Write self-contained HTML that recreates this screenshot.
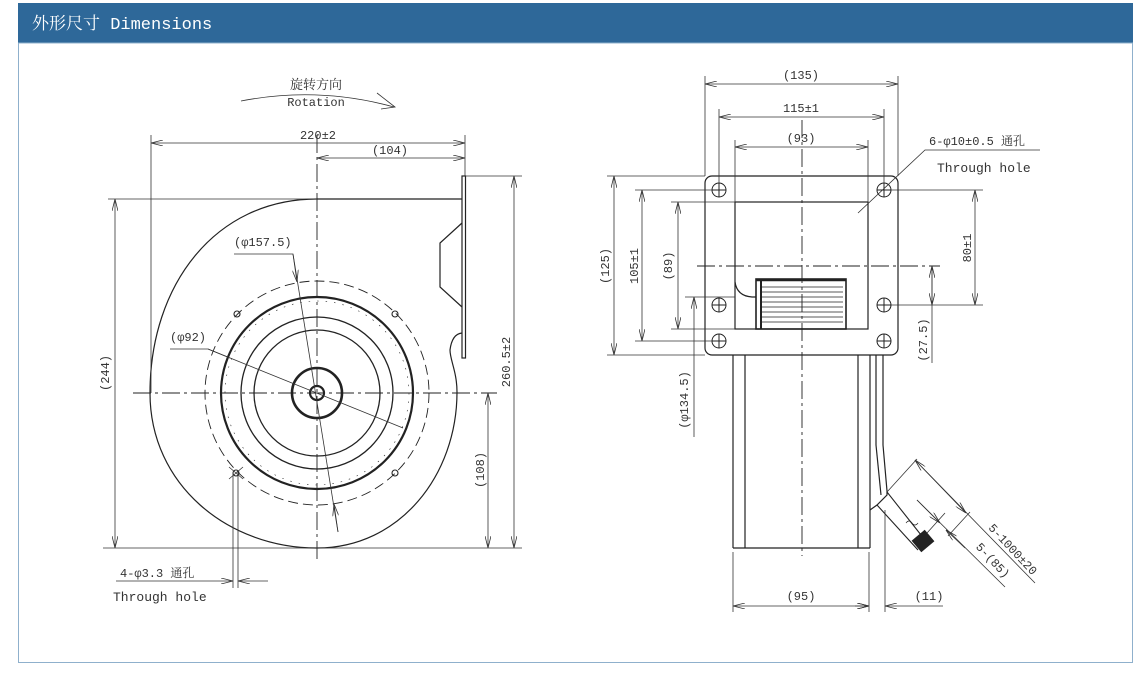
<!DOCTYPE html>
<html><head><meta charset="utf-8"><style>
html,body{margin:0;padding:0;background:#fff;width:1142px;height:678px;overflow:hidden}
svg{display:block}
text{font-family:"Liberation Mono","Noto Serif CJK SC",monospace;fill:#333;font-size:12px}
</style></head><body>
<svg width="1142" height="678" viewBox="0 0 1142 678" xmlns="http://www.w3.org/2000/svg">
<defs>
<marker id="a" viewBox="0 0 12 6" refX="12" refY="3" markerWidth="12" markerHeight="6" orient="auto-start-reverse" markerUnits="userSpaceOnUse"><path d="M0,0 L12,3 L0,6" fill="none" stroke="#333" stroke-width="0.8"/></marker>
</defs>
<rect x="18" y="3" width="1115" height="40" fill="#2e6899"/>
<rect x="18.5" y="43" width="1114" height="619.5" fill="none" stroke="#8fb0cc" stroke-width="1"/>
<text x="32" y="29" style="fill:#fff;font-size:17px">外形尺寸 Dimensions</text>

<g stroke="#222" fill="none" stroke-width="1">
<!-- LEFT VIEW -->
<g stroke-width="1.2">
<path d="M317,199 C215,199 150,285 150,393 C150,485 228,548 317,548 C400,548 457,475 457,392 C457,372 450,360 450,350 Q452,334 462,333"/>
<line x1="317" y1="199" x2="462" y2="199"/>
<rect x="462" y="176" width="3.5" height="182"/>
<path d="M462,223 L440,243 L440,287 L462,307"/>
</g>
<circle cx="317" cy="393" r="112" stroke-dasharray="10,5" stroke-width="0.9"/>
<circle cx="317" cy="393" r="96" stroke-width="2.2"/>
<circle cx="317" cy="393" r="92" stroke-width="0.6" stroke-dasharray="1.5,7"/>
<circle cx="317" cy="393" r="76" stroke-width="1.3"/>
<circle cx="317" cy="393" r="63" stroke-width="1.3"/>
<circle cx="317" cy="393" r="25" stroke-width="2.6"/>
<circle cx="317" cy="393" r="7" stroke-width="2.2"/>
<g stroke-width="1.1">
<circle cx="237" cy="314" r="3"/><circle cx="395" cy="314" r="3"/>
<circle cx="236" cy="473" r="3"/><circle cx="395" cy="473" r="3"/>
</g>
<g stroke-dasharray="18,4,3,4" stroke-width="0.9">
<line x1="133" y1="393" x2="497" y2="393"/>
<line x1="317" y1="135" x2="317" y2="562"/>
</g>
<g stroke-width="0.8" stroke="#333">
<line x1="151" y1="135" x2="151" y2="393"/>
<line x1="465" y1="135" x2="465" y2="176"/>
<line x1="151" y1="143" x2="465" y2="143" marker-start="url(#a)" marker-end="url(#a)"/>
<line x1="317" y1="158" x2="465" y2="158" marker-start="url(#a)" marker-end="url(#a)"/>
<line x1="108" y1="199" x2="317" y2="199"/>
<line x1="103" y1="548" x2="522" y2="548"/>
<line x1="115" y1="199" x2="115" y2="548" marker-start="url(#a)" marker-end="url(#a)"/>
<line x1="465" y1="176" x2="522" y2="176"/>
<line x1="514" y1="176" x2="514" y2="548" marker-start="url(#a)" marker-end="url(#a)"/>
<line x1="488" y1="393" x2="488" y2="548" marker-start="url(#a)" marker-end="url(#a)"/>
<path d="M234,254 L293,254 L338,532"/>
<line x1="293" y1="254" x2="297" y2="282" marker-end="url(#a)"/>
<line x1="334" y1="504" x2="338" y2="532" marker-start="url(#a)"/>
<path d="M170,349 L208,349 L403,428"/>
<line x1="208" y1="349" x2="230" y2="358"/>
<line x1="233" y1="473" x2="233" y2="588"/>
<line x1="238" y1="473" x2="238" y2="588"/>
<line x1="229" y1="467" x2="243" y2="479"/><line x1="243" y1="467" x2="229" y2="479"/>
<line x1="116" y1="581" x2="233" y2="581" marker-end="url(#a)"/>
<line x1="268" y1="581" x2="238" y2="581" marker-end="url(#a)"/>
<path d="M241,101 Q318,86 394,107"/>
<path d="M377,93 L395,107 L381,109"/>
</g>

<!-- RIGHT VIEW -->
<g stroke-width="1.2">
<rect x="705" y="176" width="193" height="179" rx="7"/>
<rect x="735" y="202" width="133" height="127"/>
<path d="M735,282 Q737,296 752,297 L756,297"/>
<rect x="756" y="279" width="90" height="50" stroke-width="1.6"/>
<line x1="756" y1="280" x2="846" y2="280" stroke-width="2.5"/>
<line x1="761" y1="279" x2="761" y2="329" stroke-width="2"/>
<line x1="733" y1="355" x2="733" y2="548"/>
<line x1="745" y1="355" x2="745" y2="548"/>
<line x1="858" y1="355" x2="858" y2="548"/>
<line x1="870" y1="355" x2="870" y2="548"/>
<line x1="733" y1="548" x2="870" y2="548"/>
<line x1="876" y1="355" x2="876" y2="445"/>
<path d="M883,355 L883,445 L887,491 L887,495 L877,505 L870,510"/>
<path d="M876,445 L881,495"/>
</g>
<g stroke-width="0.8">
<line x1="762" y1="287" x2="843" y2="287"/><line x1="762" y1="292" x2="843" y2="292"/>
<line x1="762" y1="297" x2="843" y2="297"/><line x1="762" y1="302" x2="843" y2="302"/>
<line x1="762" y1="307" x2="843" y2="307"/><line x1="762" y1="312" x2="843" y2="312"/>
<line x1="762" y1="317" x2="843" y2="317"/><line x1="762" y1="322" x2="843" y2="322"/>
</g>
<g stroke-width="1">
<g id="h"><circle cx="719" cy="190" r="7"/><line x1="712" y1="190" x2="726" y2="190"/><line x1="719" y1="183" x2="719" y2="197"/></g>
<circle cx="884" cy="190" r="7"/><line x1="877" y1="190" x2="891" y2="190"/><line x1="884" y1="183" x2="884" y2="197"/>
<circle cx="719" cy="305" r="7"/><line x1="712" y1="305" x2="726" y2="305"/><line x1="719" y1="298" x2="719" y2="312"/>
<circle cx="884" cy="305" r="7"/><line x1="877" y1="305" x2="891" y2="305"/><line x1="884" y1="298" x2="884" y2="312"/>
<circle cx="719" cy="341" r="7"/><line x1="712" y1="341" x2="726" y2="341"/><line x1="719" y1="334" x2="719" y2="348"/>
<circle cx="884" cy="341" r="7"/><line x1="877" y1="341" x2="891" y2="341"/><line x1="884" y1="334" x2="884" y2="348"/>
</g>
<!-- cable -->
<g stroke-width="1.1">
<path d="M887,492 L925,540"/>
<path d="M877,505 L918,550"/>
<rect x="915" y="534" width="16" height="14" transform="rotate(-40 923 541)" fill="#222"/>
<path d="M906,523 q3,-4 6,0 q3,4 6,0" stroke-width="0.7"/>
</g>
<g stroke-dasharray="18,4,3,4" stroke-width="0.9">
<line x1="802" y1="120" x2="802" y2="556"/>
<line x1="697" y1="266" x2="940" y2="266"/>
</g>
<g stroke-width="0.8" stroke="#333">
<line x1="705" y1="76" x2="705" y2="176"/><line x1="898" y1="76" x2="898" y2="176"/>
<line x1="705" y1="84" x2="898" y2="84" marker-start="url(#a)" marker-end="url(#a)"/>
<line x1="719" y1="109" x2="719" y2="183"/><line x1="884" y1="109" x2="884" y2="183"/>
<line x1="719" y1="117" x2="884" y2="117" marker-start="url(#a)" marker-end="url(#a)"/>
<line x1="735" y1="140" x2="735" y2="202"/><line x1="868" y1="140" x2="868" y2="202"/>
<line x1="735" y1="147" x2="868" y2="147" marker-start="url(#a)" marker-end="url(#a)"/>
<line x1="607" y1="176" x2="705" y2="176"/><line x1="607" y1="355" x2="705" y2="355"/>
<line x1="614" y1="176" x2="614" y2="355" marker-start="url(#a)" marker-end="url(#a)"/>
<line x1="635" y1="190" x2="712" y2="190"/><line x1="635" y1="341" x2="712" y2="341"/>
<line x1="642" y1="190" x2="642" y2="341" marker-start="url(#a)" marker-end="url(#a)"/>
<line x1="671" y1="202" x2="735" y2="202"/><line x1="671" y1="329" x2="735" y2="329"/>
<line x1="678" y1="202" x2="678" y2="329" marker-start="url(#a)" marker-end="url(#a)"/>
<line x1="685" y1="297" x2="735" y2="297"/>
<line x1="694" y1="437" x2="694" y2="297" marker-end="url(#a)"/>
<line x1="891" y1="190" x2="983" y2="190"/><line x1="891" y1="305" x2="983" y2="305"/>
<line x1="975" y1="190" x2="975" y2="305" marker-start="url(#a)" marker-end="url(#a)"/>
<line x1="932" y1="266" x2="932" y2="363"/>
<line x1="932" y1="266" x2="932" y2="305" marker-start="url(#a)" marker-end="url(#a)"/>
<line x1="733" y1="552" x2="733" y2="612"/><line x1="869" y1="552" x2="869" y2="612"/><line x1="885" y1="510" x2="885" y2="612"/>
<line x1="733" y1="606" x2="869" y2="606" marker-start="url(#a)" marker-end="url(#a)"/>
<line x1="943" y1="606" x2="885" y2="606" marker-end="url(#a)"/>
<line x1="855" y1="606" x2="869" y2="606" marker-end="url(#a)"/>
<path d="M858,213 L925,150 L1040,150"/>
<line x1="887" y1="492" x2="917" y2="459"/>
<line x1="915" y1="460" x2="1035" y2="583"/>
<line x1="915" y1="460" x2="966" y2="513" marker-start="url(#a)" marker-end="url(#a)"/>
<line x1="970" y1="512" x2="948" y2="536"/>
<line x1="917" y1="500" x2="1005" y2="587"/>
<line x1="917" y1="500" x2="940" y2="523" marker-end="url(#a)"/>
<line x1="945" y1="513" x2="927" y2="533"/>
<line x1="965" y1="548" x2="946" y2="530" marker-end="url(#a)"/>
</g>
</g>

<!-- labels -->
<text x="316" y="89" text-anchor="middle" style="font-size:13px">旋转方向</text>
<text x="316" y="106" text-anchor="middle">Rotation</text>
<text x="318" y="139" text-anchor="middle">220±2</text>
<text x="390" y="154" text-anchor="middle">(104)</text>
<text x="234" y="246">(φ157.5)</text>
<text x="170" y="341">(φ92)</text>
<text transform="translate(109,373) rotate(-90)" text-anchor="middle">(244)</text>
<text transform="translate(510,362) rotate(-90)" text-anchor="middle">260.5±2</text>
<text transform="translate(484,470) rotate(-90)" text-anchor="middle">(108)</text>
<text x="120" y="577">4-φ3.3 通孔</text>
<text x="113" y="601" style="font-size:13px">Through hole</text>

<text x="801" y="79" text-anchor="middle">(135)</text>
<text x="801" y="112" text-anchor="middle">115±1</text>
<text x="801" y="142" text-anchor="middle">(93)</text>
<text x="929" y="145">6-φ10±0.5 通孔</text>
<text x="937" y="172" style="font-size:13px">Through hole</text>
<text transform="translate(609,266) rotate(-90)" text-anchor="middle">(125)</text>
<text transform="translate(638,266) rotate(-90)" text-anchor="middle">105±1</text>
<text transform="translate(672,266) rotate(-90)" text-anchor="middle">(89)</text>
<text transform="translate(688,400) rotate(-90)" text-anchor="middle">(φ134.5)</text>
<text transform="translate(971,248) rotate(-90)" text-anchor="middle">80±1</text>
<text transform="translate(927,340) rotate(-90)" text-anchor="middle">(27.5)</text>
<text x="801" y="600" text-anchor="middle">(95)</text>
<text x="929" y="600" text-anchor="middle">(11)</text>
<text transform="translate(1010,552) rotate(47)" text-anchor="middle">5-1000±20</text>
<text transform="translate(990,563) rotate(47)" text-anchor="middle">5-(85)</text>
</svg>
</body></html>
